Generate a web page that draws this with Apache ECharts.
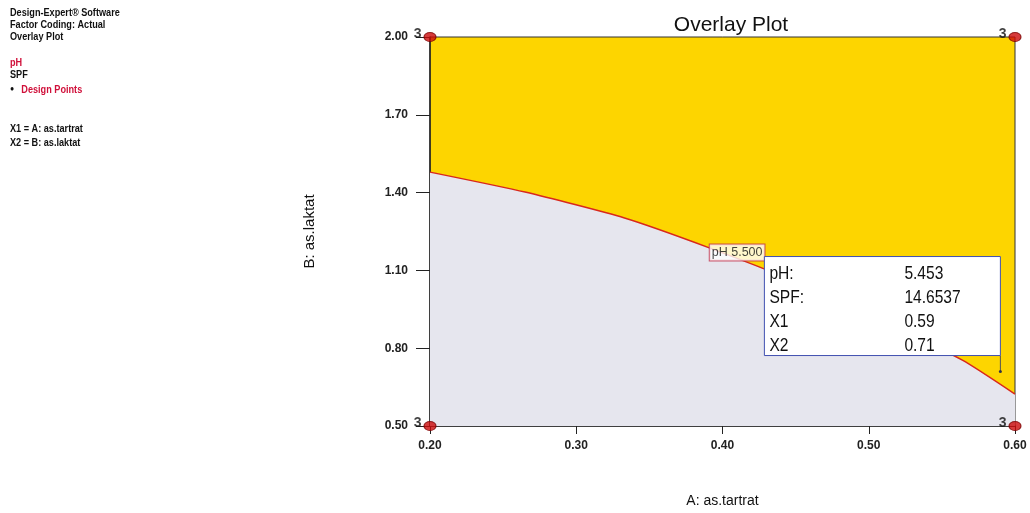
<!DOCTYPE html>
<html>
<head>
<meta charset="utf-8">
<script src="https://cdn.jsdelivr.net/npm/echarts@6/dist/echarts.min.js"></script>
<style>
html,body{margin:0;padding:0;background:#fff;}
#chart{width:1030px;height:513px;}
</style>
</head>
<body>
<div id="chart"></div>
<script>
// ---- data ----
const xTicks = [0.20, 0.30, 0.40, 0.50, 0.60];
const yTicks = [0.50, 0.80, 1.10, 1.40, 1.70, 2.00];
// pH = 5.500 contour boundary (A: as.tartrat, B: as.laktat)
const boundaryA = [0.200, 0.265, 0.333, 0.391, 0.450, 0.500, 0.564, 0.600];
const boundaryB = [1.479, 1.402, 1.302, 1.187, 1.057, 0.932, 0.754, 0.623];
// design points (with replicate count 3)
const designA = [0.20, 0.20, 0.60, 0.60];
const designB = [0.50, 2.00, 0.50, 2.00];
const designCount = ['3', '3', '3', '3'];
// contour label
const contourLabel = 'pH 5.500';
const contourLabelPos = [0.410, 1.169];
// flag info
const flagPoint = [0.59, 0.71];
const infoLabels = ['pH:', 'SPF:', 'X1', 'X2'];
const infoValues = ['5.453', '14.6537', '0.59', '0.71'];

const sans = "'Liberation Sans', Arial, sans-serif";

const chart = echarts.init(document.getElementById('chart'));

const boundary = boundaryA.map((a, i) => [a, boundaryB[i]]);
const design = designA.map((a, i) => [a, designB[i], designCount[i]]);

const lf = "bold 10.5px " + sans;
const option = {
  animation: false,
  backgroundColor: '#fff',
  title: {
    text: 'Overlay Plot',
    left: 726, top: 10, textAlign: 'center',
    textStyle: {fontFamily: sans, fontSize: 21, fontWeight: 'normal', color: '#111'}
  },
  graphic: [
    {type: 'group', left: 10, top: 8, scaleX: 0.87, children: [
      {type: 'text', x: 0, y: 0, style: {text: 'Design-Expert® Software', font: lf, fill: '#111'}},
      {type: 'text', x: 0, y: 12, style: {text: 'Factor Coding: Actual', font: lf, fill: '#111'}},
      {type: 'text', x: 0, y: 24, style: {text: 'Overlay Plot', font: lf, fill: '#111'}},
      {type: 'text', x: 0, y: 50, style: {text: 'pH', font: lf, fill: '#d0103a'}},
      {type: 'text', x: 0, y: 62, style: {text: 'SPF', font: lf, fill: '#111'}},
      {type: 'text', x: 0, y: 77, style: {text: '●', font: "8px " + sans, fill: '#111'}},
      {type: 'text', x: 13, y: 77, style: {text: 'Design Points', font: lf, fill: '#d0103a'}},
      {type: 'text', x: 0, y: 116, style: {text: 'X1 = A: as.tartrat', font: lf, fill: '#111'}},
      {type: 'text', x: 0, y: 130, style: {text: 'X2 = B: as.laktat', font: lf, fill: '#111'}}
    ]}
  ],
  grid: {
    left: 430, right: 15, top: 37, bottom: 85,
    show: true, backgroundColor: '#fdd500', borderColor: '#333', borderWidth: 1
  },
  xAxis: {
    type: 'value', min: 0.2, max: 0.6, interval: 0.1,
    name: 'A: as.tartrat', nameLocation: 'middle', nameGap: 68,
    nameTextStyle: {fontFamily: sans, fontSize: 14, color: '#111'},
    axisLine: {show: true, lineStyle: {color: '#222', width: 1.5}},
    axisTick: {show: true, length: 8, lineStyle: {color: '#222'}},
    splitLine: {show: false},
    axisLabel: {formatter: v => v.toFixed(2), margin: 14, fontFamily: sans, fontSize: 12, fontWeight: 'bold', color: '#222'}
  },
  yAxis: {
    type: 'value', min: 0.5, max: 2.0, interval: 0.3,
    name: 'B: as.laktat', nameLocation: 'middle', nameGap: 113, nameRotate: 90,
    nameTextStyle: {fontFamily: sans, fontSize: 15, color: '#111'},
    axisLine: {show: true, lineStyle: {color: '#222', width: 1.5}},
    axisTick: {show: true, length: 14, lineStyle: {color: '#222'}},
    splitLine: {show: false},
    axisLabel: {formatter: v => v.toFixed(2), margin: 22, fontFamily: sans, fontSize: 12, fontWeight: 'bold', color: '#222'}
  },
  series: [
    {
      type: 'line', data: boundary, showSymbol: false, smooth: 0.2, z: 2,
      lineStyle: {color: '#d8281c', width: 1.5},
      areaStyle: {color: '#e6e6ee', opacity: 1, origin: 'start'}
    },
    {
      type: 'scatter', data: [contourLabelPos], symbolSize: 0, z: 4,
      label: {show: true, position: 'inside', formatter: contourLabel,
        fontFamily: sans, fontSize: 12.5, color: '#111',
        backgroundColor: '#fff', borderColor: '#c0304a', borderWidth: 1, padding: [2, 2, 1, 2]}
    },
    {
      type: 'custom', data: [flagPoint], z: 6, clip: false,
      renderItem: function (params, api) {
        const p = api.coord([api.value(0), api.value(1)]);
        const bx = p[0] - 236, by = p[1] - 115, bw = 236, bh = 99;
        const children = [
          {type: 'line', shape: {x1: p[0], y1: by + bh, x2: p[0], y2: p[1]}, style: {stroke: '#555', lineWidth: 1}},
          {type: 'circle', shape: {cx: p[0], cy: p[1], r: 1.5}, style: {fill: '#334'}},
          {type: 'rect', shape: {x: bx, y: by, width: bw, height: bh}, style: {fill: '#fff', stroke: '#4050b0', lineWidth: 1}}
        ];
        infoLabels.forEach((t, i) => {
          const cy = by + 17 + i * 24;
          children.push({type: 'text', x: bx + 5, y: cy, scaleX: 0.82, style: {text: t, font: "19px " + sans, fill: '#111', verticalAlign: 'middle'}});
          children.push({type: 'text', x: bx + 140, y: cy, scaleX: 0.82, style: {text: infoValues[i], font: "19px " + sans, fill: '#111', verticalAlign: 'middle'}});
        });
        return {type: 'group', children: children};
      }
    },
    {
      type: 'scatter', data: design, symbol: 'circle', symbolSize: [12, 9], z: 8, clip: false,
      itemStyle: {color: '#cc0a0a', borderColor: '#7a0000', borderWidth: 1},
      label: {show: true, position: 'left', distance: 2, offset: [0, -3], formatter: p => p.value[2],
        fontFamily: sans, fontSize: 14, fontWeight: 'bold', color: '#111'}
    }
  ]
};
chart.setOption(option);
</script>
</body>
</html>
